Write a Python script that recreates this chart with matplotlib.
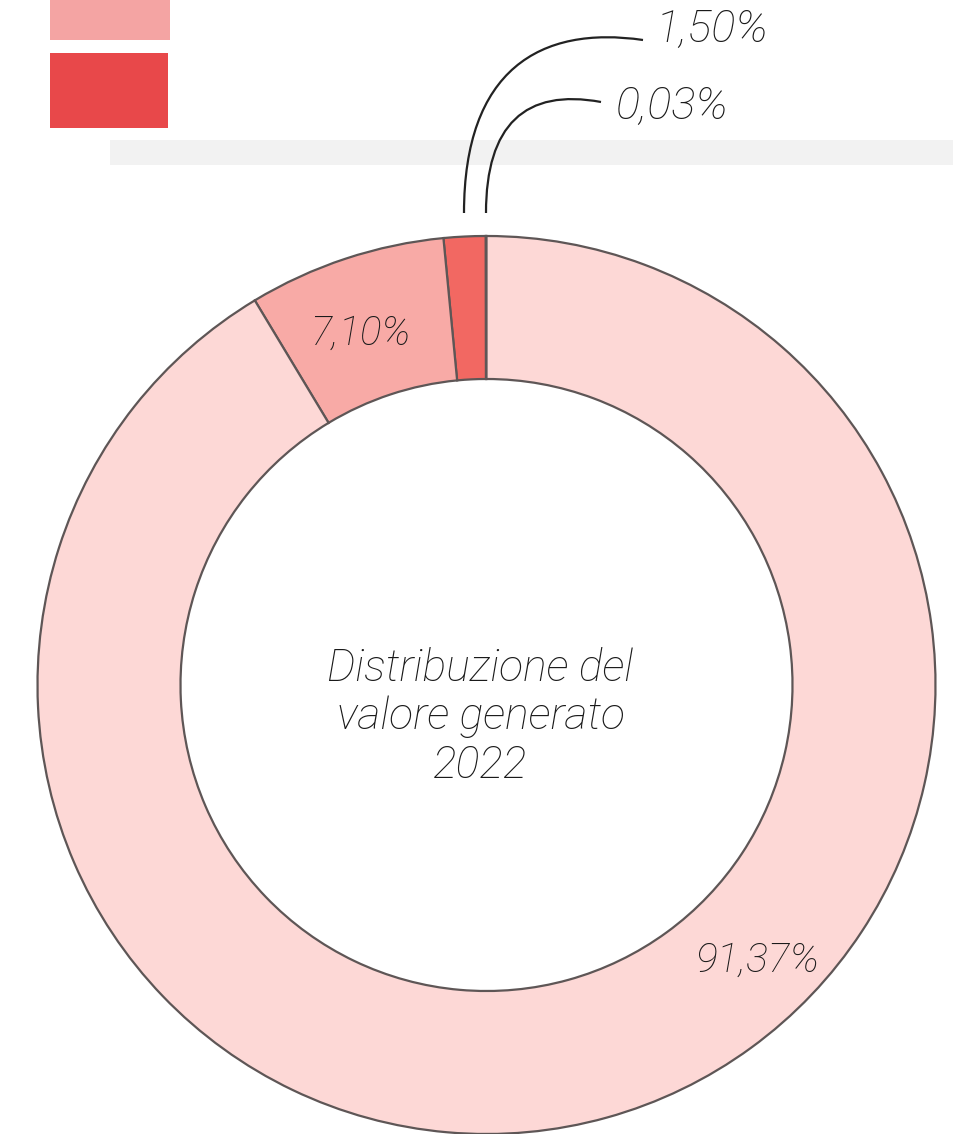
import matplotlib
matplotlib.use('Agg')
import matplotlib.pyplot as plt
from matplotlib.patches import Rectangle, PathPatch
from matplotlib.path import Path

# ==================== Data ====================
shares = [0.03, 1.50, 7.10, 91.37]
share_labels = ['0,03%', '1,50%', '7,10%', '91,37%']
slice_colors = ['#ea4a45', '#f26862', '#f8aaa6', '#fdd8d6']
legend_colors = ['#f4a4a3', '#e8484a']
center_text = 'Distribuzione del\nvalore generato\n2022'

W, H = 954, 1134
CX, CY = 486.5, H - 685
R_OUT, R_IN = 449, 306

plt.rcParams['font.family'] = ['Roboto', 'DejaVu Sans']

fig = plt.figure(figsize=(W / 100, H / 100), dpi=100)
ax = fig.add_axes([0, 0, 1, 1])

# faint grey stroke behind the legend
ax.add_patch(Rectangle((110, H - 165), W - 110, 25, color='#f2f2f2', lw=0, zorder=0))

# legend swatches (cut at the top edge)
ax.add_patch(Rectangle((50, H - 40), 120, 50, color=legend_colors[0], lw=0, zorder=1))
ax.add_patch(Rectangle((50, H - 128), 118, 75, color=legend_colors[1], lw=0, zorder=1))

# donut
wedges, _ = ax.pie(shares, colors=slice_colors, startangle=90, counterclock=True,
                   center=(CX, CY), radius=R_OUT, frame=True,
                   wedgeprops=dict(width=R_OUT - R_IN, edgecolor='#5e5656', linewidth=1.6))
ax.set_xlim(0, W)
ax.set_ylim(0, H)
ax.set_aspect('equal')
ax.axis('off')

txt = dict(style='italic', fontweight='light', color='#1a1a1a')

ax.text(360, H - 333, share_labels[2], fontsize=29, ha='center', va='center', **txt)
ax.text(757, H - 960, share_labels[3], fontsize=29.5, ha='center', va='center', **txt)
ax.text(CX - 6, H - 717, center_text, fontsize=32, ha='center', va='center',
        linespacing=1.18, **txt)

# leader lines for the thin slices
leaders = [
    ((464, 213), (464, 70), (540, 25), (643, 40), (656, 30), share_labels[1]),
    ((486, 213), (486, 125), (525, 88), (601, 102), (616, 107), share_labels[0]),
]
for p0, c1, c2, p1, tpos, lab in leaders:
    verts = [(x, H - y) for x, y in (p0, c1, c2, p1)]
    path = Path(verts, [Path.MOVETO, Path.CURVE4, Path.CURVE4, Path.CURVE4])
    ax.add_patch(PathPatch(path, facecolor='none', edgecolor='#222222', lw=1.6, zorder=5))
    ax.text(tpos[0], H - tpos[1], lab, fontsize=32.5, ha='left', va='center', **txt)

fig.savefig('out.png', dpi=100, facecolor='white')
